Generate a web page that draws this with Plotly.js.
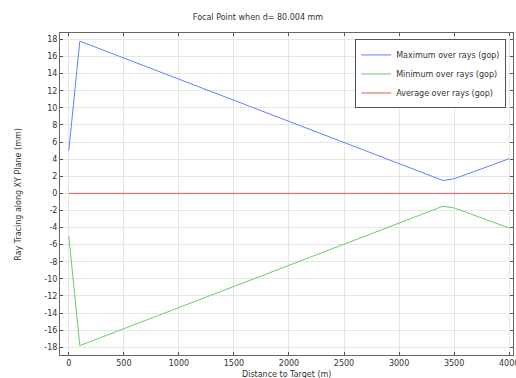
<!DOCTYPE html>
<html><head><meta charset="utf-8">
<script src="https://cdn.plot.ly/plotly-3.0.1.min.js"></script>
<style>html,body{margin:0;padding:0;background:#fff}#chart{width:516px;height:378px}</style>
</head><body><div id="chart"></div>
<script>
const distance = [0, 100, 3400, 3500, 4000];
const maxRays = [5.0, 17.8, 1.5, 1.7, 4.05];
const minRays = [-5.0, -17.8, -1.5, -1.7, -4.05];
const avgX = [0, 4000];
const avgRays = [0, 0];
const xTicks = [0, 500, 1000, 1500, 2000, 2500, 3000, 3500, 4000];
const yTicks = [-18,-16,-14,-12,-10,-8,-6,-4,-2,0,2,4,6,8,10,12,14,16,18];
const xTitle = 'Distance to Target (m)';
const yTitle = 'Ray Tracing along XY Plane (mm)';

const font = {family: 'DejaVu Sans, sans-serif', size: 8, color: '#333'};
const traces = [
  {x: distance, y: maxRays, mode: 'lines', name: 'Maximum over rays (gop)', line: {color: '#5f7fff', width: 1}},
  {x: distance, y: minRays, mode: 'lines', name: 'Minimum over rays (gop)', line: {color: '#66cc66', width: 1}},
  {x: avgX, y: avgRays, mode: 'lines', name: 'Average over rays (gop)', line: {color: '#ee5555', width: 1}}
];
const axisCommon = {
  showline: true, linecolor: '#666', linewidth: 1, mirror: 'ticks',
  ticks: 'inside', ticklen: 3, tickcolor: '#555',
  gridcolor: '#e6e6e6', zeroline: false, tickfont: font, automargin: false
};
const layout = {
  width: 516, height: 378,
  margin: {l: 60, r: 3, t: 33, b: 23},
  paper_bgcolor: '#fff', plot_bgcolor: '#fff',
  font: font,
  title: {text: 'Focal Point when d= 80.004 mm', x: 0.5, xanchor: 'center', y: 0.955, yanchor: 'middle', font: {family: 'DejaVu Sans, sans-serif', size: 8, color: '#333'}},
  xaxis: Object.assign({}, axisCommon, {range: [-80, 4035], tickvals: xTicks, ticktext: xTicks.map(String),
    ticklabeloverflow: 'allow'}),
  yaxis: Object.assign({}, axisCommon, {range: [-18.9, 18.75], tickvals: yTicks, ticktext: yTicks.map(String)}),
  annotations: [
    {text: xTitle, xref: 'paper', yref: 'paper', x: 0.5, y: -0.061, xanchor: 'center', yanchor: 'middle',
      showarrow: false, font: font},
    {text: yTitle, xref: 'paper', yref: 'paper', x: -0.093, y: 0.5, xanchor: 'center', yanchor: 'middle',
      textangle: -90, showarrow: false, font: font}
  ],
  legend: {x: 0.985, y: 0.98, xanchor: 'right', yanchor: 'top', bgcolor: '#fff', bordercolor: '#555', borderwidth: 1,
    font: font, tracegroupgap: 0, itemwidth: 30},
  showlegend: true
};
Plotly.newPlot('chart', traces, layout, {displayModeBar: false, staticPlot: true});
</script></body></html>
